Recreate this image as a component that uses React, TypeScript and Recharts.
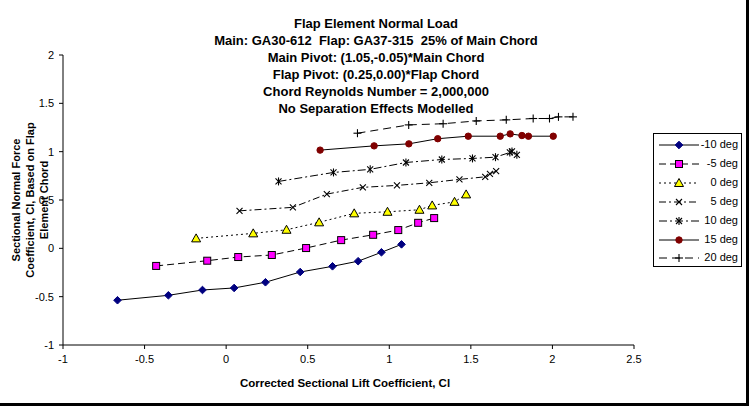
import React from "react";
import { ScatterChart, Scatter, XAxis, YAxis } from "recharts";

// Corrected sectional lift coefficient (Cl) / sectional normal force (Cn) per flap angle
const clNeg10 = [-0.666, -0.354, -0.145, 0.049, 0.241, 0.454, 0.652, 0.809, 0.952, 1.075];
const cnNeg10 = [-0.537, -0.486, -0.431, -0.41, -0.351, -0.245, -0.186, -0.133, -0.041, 0.041];

const clNeg5 = [-0.429, -0.116, 0.074, 0.28, 0.49, 0.705, 0.901, 1.055, 1.177, 1.275];
const cnNeg5 = [-0.182, -0.128, -0.09, -0.069, 0.003, 0.085, 0.14, 0.189, 0.264, 0.313];

const cl0 = [-0.184, 0.166, 0.37, 0.57, 0.785, 0.989, 1.185, 1.263, 1.4, 1.471];
const cn0 = [0.103, 0.155, 0.192, 0.269, 0.362, 0.378, 0.399, 0.444, 0.481, 0.558];

const cl5 = [0.082, 0.409, 0.617, 0.838, 1.047, 1.245, 1.43, 1.588, 1.617, 1.655];
const cn5 = [0.388, 0.424, 0.561, 0.631, 0.651, 0.678, 0.713, 0.74, 0.771, 0.799];

const cl10 = [0.321, 0.658, 0.883, 1.102, 1.322, 1.51, 1.651, 1.739, 1.752, 1.782];
const cn10 = [0.692, 0.785, 0.817, 0.888, 0.919, 0.93, 0.943, 0.992, 1.002, 0.967];

const cl15 = [0.576, 0.907, 1.12, 1.297, 1.484, 1.68, 1.741, 1.813, 1.853, 2.005];
const cn15 = [1.016, 1.06, 1.081, 1.134, 1.16, 1.16, 1.184, 1.167, 1.16, 1.16];

const cl20 = [0.805, 1.119, 1.33, 1.533, 1.717, 1.882, 1.982, 2.037, 2.126];
const cn20 = [1.191, 1.277, 1.289, 1.318, 1.329, 1.343, 1.343, 1.36, 1.36];

const xTicks = [-1, -0.5, 0, 0.5, 1, 1.5, 2, 2.5];
const yTicks = [-1, -0.5, 0, 0.5, 1, 1.5, 2];

const titleLines = [
  "Flap Element Normal Load",
  "Main: GA30-612  Flap: GA37-315  25% of Main Chord",
  "Main Pivot: (1.05,-0.05)*Main Chord",
  "Flap Pivot: (0.25,0.00)*Flap Chord",
  "Chord Reynolds Number = 2,000,000",
  "No Separation Effects Modelled",
];
const yLabelLines = ["Sectional Normal Force", "Coefficient, Cl, Based on Flap", "Element Chord"];
const xLabel = "Corrected Sectional Lift Coefficient, Cl";

const FONT = "Arial, 'Liberation Sans', sans-serif";

const zip = (xs: number[], ys: number[]) => xs.map((x, i) => ({ x, y: ys[i] }));

const series = [
  { name: "-10 deg", data: zip(clNeg10, cnNeg10), marker: "diamond", dash: undefined },
  { name: "-5 deg", data: zip(clNeg5, cnNeg5), marker: "square", dash: "7 4" },
  { name: "0 deg", data: zip(cl0, cn0), marker: "triangle", dash: "2 3" },
  { name: "5 deg", data: zip(cl5, cn5), marker: "cross", dash: "7 3 2 3" },
  { name: "10 deg", data: zip(cl10, cn10), marker: "star", dash: "8 3 2 3" },
  { name: "15 deg", data: zip(cl15, cn15), marker: "circle", dash: undefined },
  { name: "20 deg", data: zip(cl20, cn20), marker: "plus", dash: "8 5" },
];

function Marker({ kind, cx, cy }: { kind: string; cx: number; cy: number }) {
  switch (kind) {
    case "diamond":
      return (
        <polygon
          points={`${cx},${cy - 3.8} ${cx + 3.8},${cy} ${cx},${cy + 3.8} ${cx - 3.8},${cy}`}
          fill="#000080"
          stroke="#000080"
        />
      );
    case "square":
      return <rect x={cx - 3.5} y={cy - 3.5} width={7} height={7} fill="#FF00FF" stroke="#000" />;
    case "triangle":
      return (
        <polygon
          points={`${cx},${cy - 4.5} ${cx + 4.5},${cy + 3.5} ${cx - 4.5},${cy + 3.5}`}
          fill="#FFFF00"
          stroke="#000"
        />
      );
    case "cross":
      return (
        <g stroke="#000" strokeWidth={1.1}>
          <line x1={cx - 3} y1={cy - 3} x2={cx + 3} y2={cy + 3} />
          <line x1={cx - 3} y1={cy + 3} x2={cx + 3} y2={cy - 3} />
        </g>
      );
    case "star":
      return (
        <g stroke="#000" strokeWidth={1.1}>
          <line x1={cx - 3} y1={cy - 3} x2={cx + 3} y2={cy + 3} />
          <line x1={cx - 3} y1={cy + 3} x2={cx + 3} y2={cy - 3} />
          <line x1={cx} y1={cy - 4} x2={cx} y2={cy + 4} />
        </g>
      );
    case "circle":
      return <circle cx={cx} cy={cy} r={3.2} fill="#800000" stroke="#800000" />;
    case "plus":
      return (
        <g stroke="#000" strokeWidth={1.1}>
          <line x1={cx - 4} y1={cy} x2={cx + 4} y2={cy} />
          <line x1={cx} y1={cy - 4} x2={cx} y2={cy + 4} />
        </g>
      );
  }
  return null;
}

function LegendBox() {
  return (
    <div
      style={{
        position: "absolute",
        left: 653,
        top: 133,
        width: 87,
        height: 132,
        border: "1px solid #000",
        background: "#fff",
        fontFamily: FONT,
        fontSize: 11,
      }}
    >
      {series.map((s, i) => (
        <div key={s.name} style={{ position: "absolute", left: 0, top: 2 + i * 18.9, height: 18, width: 87 }}>
          <svg width={42} height={18} style={{ position: "absolute", left: 4, top: 0 }}>
            <line x1={1} y1={9} x2={41} y2={9} stroke="#000" strokeDasharray={s.dash} />
            <Marker kind={s.marker} cx={21} cy={9} />
          </svg>
          <span style={{ position: "absolute", right: 3, top: 2, whiteSpace: "nowrap" }}>{s.name}</span>
        </div>
      ))}
    </div>
  );
}

export default function App() {
  return (
    <div style={{ position: "absolute", left: 0, top: 0, width: 751, height: 406, background: "#fff", fontFamily: FONT }}>
      <div
        style={{
          position: "absolute",
          left: 0,
          top: 0,
          width: 746,
          height: 403,
          borderRight: "3px solid #000",
          borderBottom: "3px solid #000",
        }}
      />
      <div
        style={{
          position: "absolute",
          left: 176,
          top: 15,
          width: 400,
          textAlign: "center",
          fontWeight: "bold",
          fontSize: 13,
          lineHeight: "17px",
          color: "#000",
        }}
      >
        {titleLines.map((t) => (
          <div key={t} style={{ whiteSpace: "pre" }}>{t}</div>
        ))}
      </div>
      <ScatterChart width={751} height={406} margin={{ top: 55, right: 117, bottom: 0, left: 0 }}>
        <XAxis
          type="number"
          dataKey="x"
          domain={[-1, 2.5]}
          ticks={xTicks}
          height={61}
          allowDataOverflow
          axisLine={{ stroke: "#000" }}
          tickLine={{ stroke: "#000" }}
          tickSize={4}
          tickMargin={6}
          tick={{ fill: "#000", fontSize: 11, fontFamily: FONT }}
        />
        <YAxis
          type="number"
          dataKey="y"
          domain={[-1, 2]}
          ticks={yTicks}
          width={63}
          allowDataOverflow
          axisLine={{ stroke: "#000" }}
          tickLine={{ stroke: "#000" }}
          tickSize={4}
          tickMargin={5}
          tick={{ fill: "#000", fontSize: 11, fontFamily: FONT }}
        />
        {series.map((s) => (
          <Scatter
            key={s.name}
            name={s.name}
            data={s.data}
            line={{ stroke: "#000", strokeWidth: 1, strokeDasharray: s.dash }}
            lineType="joint"
            isAnimationActive={false}
            shape={(p: any) => <Marker kind={s.marker} cx={p.cx} cy={p.cy} />}
          />
        ))}
      </ScatterChart>
      <div
        style={{
          position: "absolute",
          left: 145,
          top: 377,
          width: 400,
          textAlign: "center",
          fontWeight: "bold",
          fontSize: 11.5,
        }}
      >
        {xLabel}
      </div>
      <div
        style={{
          position: "absolute",
          left: 31 - 100,
          top: 200 - 22,
          width: 200,
          height: 44,
          transform: "rotate(-90deg)",
          textAlign: "center",
          fontWeight: "bold",
          fontSize: 11,
          lineHeight: "14px",
        }}
      >
        {yLabelLines.map((t) => (
          <div key={t}>{t}</div>
        ))}
      </div>
      <LegendBox />
    </div>
  );
}
